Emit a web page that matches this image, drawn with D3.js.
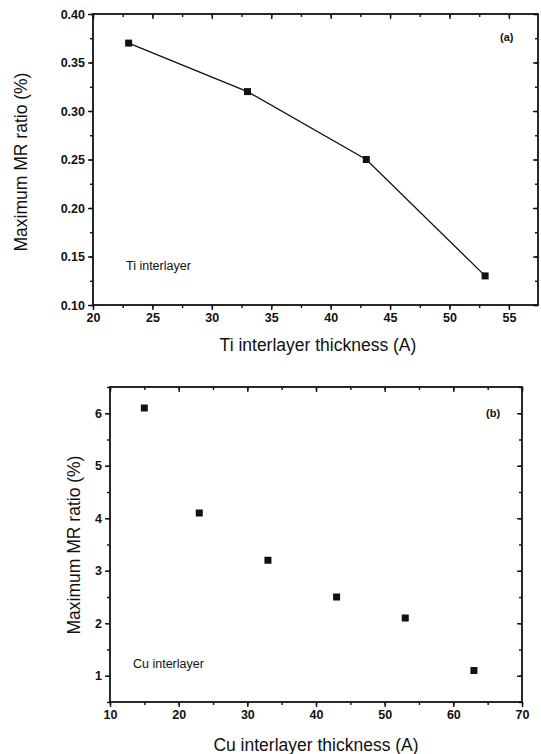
<!DOCTYPE html>
<html>
<head>
<meta charset="utf-8">
<script src="https://cdn.jsdelivr.net/npm/d3@7"></script>
<style>
  body { margin: 0; background: #fff; }
  svg text { font-family: "Liberation Sans", Arial, sans-serif; fill: #111; }
</style>
</head>
<body>
<svg id="chart" width="541" height="754"></svg>
<script>
// panel (a) - Ti interlayer
var tiThickness = [23, 33, 43, 53];
var tiMR = [0.37, 0.32, 0.25, 0.13];
var tiXTicks = [20, 25, 30, 35, 40, 45, 50, 55];
var tiYTicks = [0.10, 0.15, 0.20, 0.25, 0.30, 0.35, 0.40];

// panel (b) - Cu interlayer
var cuThickness = [15, 23, 33, 43, 53, 63];
var cuMR = [6.1, 4.1, 3.2, 2.5, 2.1, 1.1];
var cuXTicks = [10, 20, 30, 40, 50, 60, 70];
var cuYTicks = [1, 2, 3, 4, 5, 6];

var svg = d3.select("#chart");

function panel(opt) {
  var g = svg.append("g");
  var x = d3.scaleLinear().domain(opt.xDomain).range([opt.left, opt.right]);
  var y = d3.scaleLinear().domain(opt.yDomain).range([opt.bottom, opt.top]);

  // minor ticks
  var xMinor = d3.range(opt.xDomain[0], opt.xDomain[1] + 1e-9, opt.xMinorStep);
  var yMinor = d3.range(opt.yDomain[0], opt.yDomain[1] + 1e-9, opt.yMinorStep);

  // bottom axis (ticks outward)
  g.append("g").attr("transform", "translate(0," + opt.bottom + ")")
    .call(d3.axisBottom(x).tickValues(xMinor).tickSize(3).tickFormat(""));
  g.append("g").attr("transform", "translate(0," + opt.bottom + ")")
    .call(d3.axisBottom(x).tickValues(opt.xTicks).tickSize(5).tickPadding(3).tickFormat(opt.xFormat))
    .call(function(s) { s.selectAll("text").style("font-size", "12.5px").style("font-weight", "bold"); });
  // top axis (ticks inward)
  g.append("g").attr("transform", "translate(0," + opt.top + ")")
    .call(d3.axisBottom(x).tickValues(xMinor).tickSize(3).tickFormat(""));
  g.append("g").attr("transform", "translate(0," + opt.top + ")")
    .call(d3.axisBottom(x).tickValues(opt.xTicks).tickSize(5).tickFormat(""));
  // left axis (ticks outward)
  g.append("g").attr("transform", "translate(" + opt.left + ",0)")
    .call(d3.axisLeft(y).tickValues(yMinor).tickSize(3).tickFormat(""));
  g.append("g").attr("transform", "translate(" + opt.left + ",0)")
    .call(d3.axisLeft(y).tickValues(opt.yTicks).tickSize(5).tickPadding(3).tickFormat(opt.yFormat))
    .call(function(s) { s.selectAll("text").style("font-size", "12.5px").style("font-weight", "bold"); });
  // right axis (ticks inward)
  g.append("g").attr("transform", "translate(" + opt.right + ",0)")
    .call(d3.axisLeft(y).tickValues(yMinor).tickSize(3).tickFormat(""));
  g.append("g").attr("transform", "translate(" + opt.right + ",0)")
    .call(d3.axisLeft(y).tickValues(opt.yTicks).tickSize(5).tickFormat(""));

  g.selectAll(".domain").remove();
  g.selectAll(".tick line").attr("stroke", "#111").attr("stroke-width", 1.4);

  // frame
  g.append("rect")
    .attr("x", opt.left).attr("y", opt.top)
    .attr("width", opt.right - opt.left).attr("height", opt.bottom - opt.top)
    .attr("fill", "none").attr("stroke", "#111").attr("stroke-width", 1.8);

  var pts = opt.xs.map(function(v, i) { return [v, opt.ys[i]]; });

  if (opt.line) {
    g.append("path").datum(pts)
      .attr("fill", "none").attr("stroke", "#111").attr("stroke-width", 1.3)
      .attr("d", d3.line().x(function(d) { return x(d[0]); }).y(function(d) { return y(d[1]); }));
  }

  g.selectAll("rect.pt").data(pts).enter().append("rect")
    .attr("class", "pt")
    .attr("x", function(d) { return x(d[0]) - 3.5; })
    .attr("y", function(d) { return y(d[1]) - 3.5; })
    .attr("width", 7).attr("height", 7).attr("fill", "#111");

  g.append("text").attr("x", opt.tagX).attr("y", opt.tagY)
    .style("font-size", "11px").style("font-weight", "bold").text(opt.tag);
  g.append("text").attr("x", opt.noteX).attr("y", opt.noteY)
    .style("font-size", "12.5px").text(opt.note);

  g.append("text")
    .attr("x", opt.xTitleX).attr("y", opt.xTitleY)
    .attr("text-anchor", "middle").style("font-size", "17.5px").text(opt.xTitle);
  g.append("text")
    .attr("transform", "translate(" + opt.yTitleX + "," + opt.yTitleY + ") rotate(-90)")
    .attr("text-anchor", "middle").style("font-size", "17.5px").text("Maximum MR ratio (%)");
}

panel({
  xs: tiThickness, ys: tiMR, line: true,
  xDomain: [20, 57.45], yDomain: [0.10, 0.40],
  left: 93, right: 538, top: 14, bottom: 305,
  xTicks: tiXTicks, yTicks: tiYTicks, xMinorStep: 2.5, yMinorStep: 0.025,
  xFormat: d3.format("d"), yFormat: d3.format(".2f"),
  tag: "(a)", tagX: 500, tagY: 41,
  note: "Ti interlayer", noteX: 126, noteY: 270,
  xTitle: "Ti interlayer thickness (A)", xTitleX: 318, xTitleY: 351,
  yTitleX: 27, yTitleY: 162
});

panel({
  xs: cuThickness, ys: cuMR, line: false,
  xDomain: [10, 70], yDomain: [0.5, 6.5],
  left: 110, right: 522, top: 387, bottom: 702,
  xTicks: cuXTicks, yTicks: cuYTicks, xMinorStep: 5, yMinorStep: 0.5,
  xFormat: d3.format("d"), yFormat: d3.format("d"),
  tag: "(b)", tagX: 486, tagY: 417,
  note: "Cu interlayer", noteX: 133, noteY: 668,
  xTitle: "Cu interlayer thickness (A)", xTitleX: 316, xTitleY: 751,
  yTitleX: 80, yTitleY: 545
});
</script>
</body>
</html>
